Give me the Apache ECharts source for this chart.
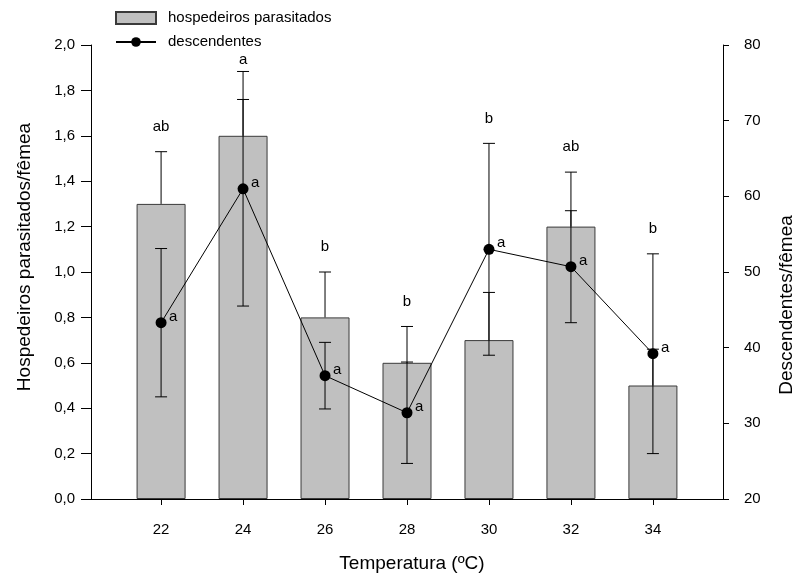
<!DOCTYPE html>
<html>
<head>
<meta charset="utf-8">
<script src="https://cdn.jsdelivr.net/npm/echarts@6/dist/echarts.min.js"></script>
<style>
  html, body { margin: 0; padding: 0; background: #fff; }
  #container { width: 797px; height: 576px; }
</style>
</head>
<body>
<div id="container"></div>
<script>
// temperatures (ºC)
var temps = [22, 24, 26, 28, 30, 32, 34];
// hospedeiros parasitados / femea (bars, left axis)
var hosp = [1.30, 1.60, 0.80, 0.60, 0.70, 1.20, 0.50];
var hospErr = [0.23, 0.16, 0.20, 0.16, 0.21, 0.24, 0.16];
var hospLetters = ['ab', 'a', 'b', 'b', 'b', 'ab', 'b'];
// descendentes / femea (line, right axis)
var desc = [43.3, 61.0, 36.3, 31.4, 53.0, 50.7, 39.2];
var descErr = [9.8, 15.5, 4.4, 6.7, 14.0, 7.4, 13.2];
var descLetters = ['a', 'a', 'a', 'a', 'a', 'a', 'a'];

var font = 'Liberation Sans, Arial, sans-serif';
var dom = document.getElementById('container');
var myChart = echarts.init(dom, null, { renderer: 'canvas' });

function comma(v) {
    return v.toFixed(1).replace('.', ',');
}

// vertical error bar with caps
function errBar(x, yTop, yBot, cap) {
    return [
        { type: 'line', shape: { x1: x, y1: yTop, x2: x, y2: yBot }, style: { stroke: '#000', lineWidth: 1 } },
        { type: 'line', shape: { x1: x - cap, y1: yTop, x2: x + cap, y2: yTop }, style: { stroke: '#000', lineWidth: 1 } },
        { type: 'line', shape: { x1: x - cap, y1: yBot, x2: x + cap, y2: yBot }, style: { stroke: '#000', lineWidth: 1 } }
    ];
}

var option = {
    animation: false,
    textStyle: { fontFamily: font },
    legend: {
        orient: 'vertical',
        left: 115,
        top: 10.5,
        padding: 0,
        itemWidth: 40,
        itemHeight: 12,
        itemGap: 9,
        textStyle: { fontFamily: font, fontSize: 15, color: '#000', padding: [0, 0, 0, 7] },
        data: [
            { name: 'hospedeiros parasitados', icon: 'rect' },
            { name: 'descendentes' }
        ]
    },
    grid: { left: 91, right: 74, top: 45, bottom: 77, outerBoundsMode: 'none', containLabel: false },
    xAxis: {
        type: 'value',
        min: 20.29,
        max: 35.71,
        name: 'Temperatura (ºC)',
        nameLocation: 'middle',
        nameGap: 55,
        nameTextStyle: { fontFamily: font, fontSize: 19, color: '#000', padding: [0, 0, 0, 10] },
        axisLine: { show: true, lineStyle: { color: '#000', width: 1 } },
        axisTick: { show: true, length: 6, customValues: temps, lineStyle: { color: '#000' } },
        axisLabel: { customValues: temps, fontSize: 15, color: '#000', margin: 23, fontFamily: font },
        splitLine: { show: false }
    },
    yAxis: [
        {
            type: 'value',
            min: 0,
            max: 2,
            interval: 0.2,
            position: 'left',
            name: 'Hospedeiros parasitados/fêmea',
            nameLocation: 'middle',
            nameGap: 57,
            nameTextStyle: { fontFamily: font, fontSize: 19, color: '#000', padding: [0, 0, 0, 30] },
            axisLine: { show: true, lineStyle: { color: '#000', width: 1 } },
            axisTick: { show: true, length: 10, lineStyle: { color: '#000' } },
            axisLabel: { formatter: comma, fontSize: 15, color: '#000', margin: 16, fontFamily: font },
            splitLine: { show: false }
        },
        {
            type: 'value',
            min: 20,
            max: 80,
            interval: 10,
            position: 'right',
            name: 'Descendentes/fêmea',
            nameLocation: 'middle',
            nameGap: 54,
            nameRotate: 90,
            nameTextStyle: { fontFamily: font, fontSize: 19, color: '#000', padding: [0, 66, 0, 0] },
            axisLine: { show: true, lineStyle: { color: '#000', width: 1 } },
            axisTick: { show: true, length: 6, lineStyle: { color: '#000' } },
            axisLabel: { fontSize: 15, color: '#000', margin: 21, fontFamily: font },
            splitLine: { show: false }
        }
    ],
    series: [
        {
            name: 'hospedeiros parasitados',
            type: 'bar',
            yAxisIndex: 0,
            barWidth: 49,
            itemStyle: { color: '#c0c0c0', borderColor: '#3a3a3a', borderWidth: 1 },
            data: temps.map(function (t, i) { return [t, hosp[i]]; }),
            z: 1
        },
        {
            // bar error bars (upward)
            type: 'custom',
            yAxisIndex: 0,
            silent: true,
            data: temps.map(function (t, i) { return [t, hosp[i], hospErr[i]]; }),
            renderItem: function (params, api) {
                var top = api.coord([api.value(0), api.value(1) + api.value(2)]);
                var base = api.coord([api.value(0), api.value(1)]);
                return { type: 'group', children: errBar(base[0], top[1], base[1], 6).slice(0, 2) };
            },
            z: 2
        },
        {
            // descendentes error bars
            type: 'custom',
            yAxisIndex: 1,
            silent: true,
            data: temps.map(function (t, i) { return [t, desc[i], descErr[i]]; }),
            renderItem: function (params, api) {
                var top = api.coord([api.value(0), api.value(1) + api.value(2)]);
                var bot = api.coord([api.value(0), api.value(1) - api.value(2)]);
                return { type: 'group', children: errBar(top[0], top[1], bot[1], 6) };
            },
            z: 3
        },
        {
            name: 'descendentes',
            type: 'line',
            yAxisIndex: 1,
            symbol: 'circle',
            symbolSize: 11,
            lineStyle: { color: '#000', width: 1 },
            itemStyle: { color: '#000' },
            data: temps.map(function (t, i) { return [t, desc[i]]; }),
            z: 4
        },
        {
            // letters above bars
            type: 'custom',
            yAxisIndex: 0,
            silent: true,
            data: temps.map(function (t, i) { return [t, hosp[i] + hospErr[i], i]; }),
            renderItem: function (params, api) {
                var i = api.value(2);
                var barTop = api.coord([api.value(0), api.value(1)]);
                // top of descendentes error bar, in pixels
                var yR = myChart.convertToPixel({ yAxisIndex: 1 }, desc[i] + descErr[i]);
                var y = Math.max(Math.min(barTop[1], yR) - 25, 60);
                return {
                    type: 'text',
                    x: barTop[0],
                    y: y,
                    style: { text: hospLetters[i], fill: '#000', font: '15px ' + font, align: 'center', verticalAlign: 'middle' }
                };
            },
            z: 5
        },
        {
            // letters next to points
            type: 'custom',
            yAxisIndex: 1,
            silent: true,
            data: temps.map(function (t, i) { return [t, desc[i], i]; }),
            renderItem: function (params, api) {
                var p = api.coord([api.value(0), api.value(1)]);
                return {
                    type: 'text',
                    x: p[0] + 8,
                    y: p[1] - 6,
                    style: { text: descLetters[api.value(2)], fill: '#000', font: '15px ' + font, align: 'left', verticalAlign: 'middle' }
                };
            },
            z: 5
        }
    ]
};

myChart.setOption(option);
// letters depend on pixel conversion of the right axis: render once more
myChart.setOption({ series: option.series });

window.addEventListener('resize', myChart.resize);
</script>
</body>
</html>
